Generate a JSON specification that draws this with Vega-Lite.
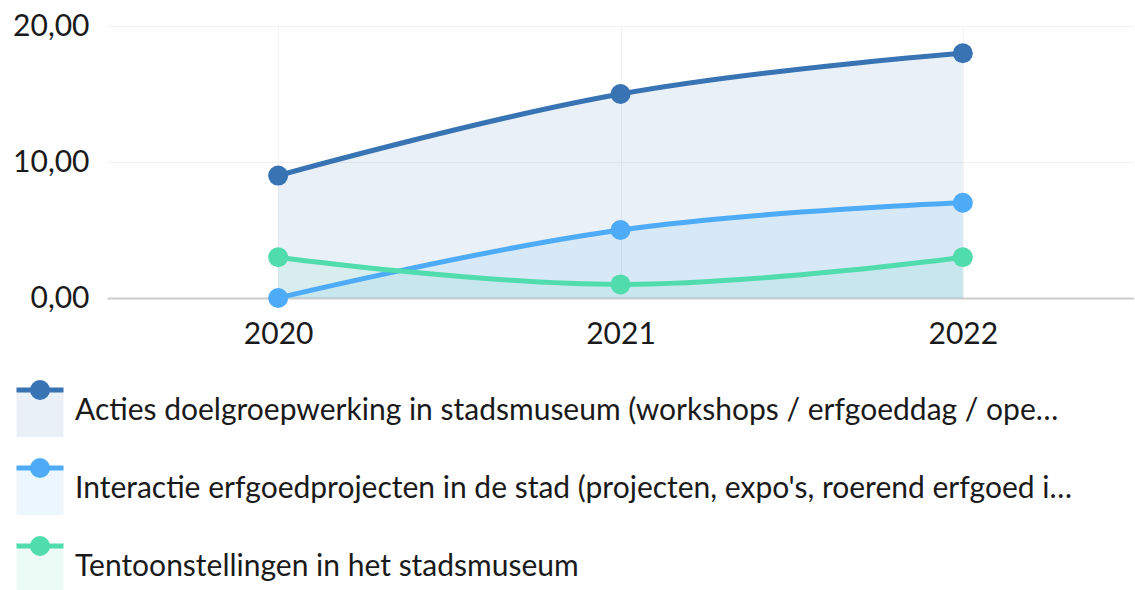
{
  "$schema": "https://vega.github.io/schema/vega-lite/v6.json",
  "padding": {"left": 12, "top": 11, "right": 0, "bottom": 0},
  "background": "white",
  "columns": 1,
  "spacing": 31,
  "config": {
    "view": {"stroke": null},
    "font": "Lato",
    "axis": {"labelFont": "Lato", "labelColor": "#1a1a1a", "title": null}
  },
  "data": {
    "values": [
      {"series": "Acties doelgroepwerking in stadsmuseum (workshops / erfgoeddag / ope…", "year": "2020", "value": 9},
      {"series": "Acties doelgroepwerking in stadsmuseum (workshops / erfgoeddag / ope…", "year": "2021", "value": 15},
      {"series": "Acties doelgroepwerking in stadsmuseum (workshops / erfgoeddag / ope…", "year": "2022", "value": 18},
      {"series": "Interactie erfgoedprojecten in de stad (projecten, expo's, roerend erfgoed i…", "year": "2020", "value": 0},
      {"series": "Interactie erfgoedprojecten in de stad (projecten, expo's, roerend erfgoed i…", "year": "2021", "value": 5},
      {"series": "Interactie erfgoedprojecten in de stad (projecten, expo's, roerend erfgoed i…", "year": "2022", "value": 7},
      {"series": "Tentoonstellingen in het stadsmuseum", "year": "2020", "value": 3},
      {"series": "Tentoonstellingen in het stadsmuseum", "year": "2021", "value": 1},
      {"series": "Tentoonstellingen in het stadsmuseum", "year": "2022", "value": 3}
    ]
  },
  "concat": [
    {
      "width": 1027,
      "height": 272,
      "encoding": {
        "x": {
          "field": "year", "type": "ordinal",
          "scale": {"type": "point", "padding": 0.5},
          "axis": {"labelAngle": 0, "labelFontSize": 30, "labelPadding": 21, "ticks": false, "domain": true, "domainColor": "#cccccc", "domainWidth": 2, "grid": true, "gridColor": "#f2f2f2", "gridWidth": 1}
        },
        "y": {
          "field": "value", "type": "quantitative",
          "scale": {"domain": [0, 20], "nice": false},
          "axis": {"values": [0, 10, 20], "labelExpr": "replace(format(datum.value, '.2f'), '.', ',')", "labelFontSize": 30, "labelPadding": 18, "ticks": false, "domain": false, "grid": true, "gridColor": "#f2f2f2", "gridWidth": 1}
        },
        "color": {
          "field": "series", "type": "nominal",
          "scale": {"range": ["#3873b3", "#4dabf7", "#51dcae"]},
          "legend": null
        }
      },
      "layer": [
        {"mark": {"type": "area", "interpolate": "cardinal", "tension": -0.2, "opacity": 0.11}, "encoding": {"y": {"field": "value", "type": "quantitative", "stack": null}}},
        {"mark": {"type": "line", "interpolate": "cardinal", "tension": -0.2, "strokeWidth": 5}},
        {"mark": {"type": "point", "filled": true, "opacity": 1, "size": 400, "shape": "circle"}}
      ]
    },
    {
      "width": 46,
      "height": 234,
      "transform": [{"filter": "datum.year == '2020'"}],
      "encoding": {
        "y": {"field": "series", "type": "nominal", "scale": {"type": "band", "paddingInner": 0, "paddingOuter": 0}, "axis": null, "bandPosition": 0},
        "color": {"field": "series", "type": "nominal", "legend": null}
      },
      "layer": [
        {"mark": {"type": "point", "shape": "M-1,0H1V2H-1Z", "filled": true, "opacity": 0.11, "size": 2209, "strokeWidth": 0, "xOffset": -90}},
        {"mark": {"type": "point", "shape": "M-1,-0.11H1V0.11H-1Z", "filled": true, "opacity": 1, "size": 2209, "strokeWidth": 0, "xOffset": -90}},
        {"mark": {"type": "point", "shape": "circle", "filled": true, "opacity": 1, "size": 400, "strokeWidth": 0, "xOffset": -90}},
        {"mark": {"type": "text", "align": "left", "baseline": "middle", "dx": 35, "dy": 21, "xOffset": -90, "fontSize": 30, "font": "Lato", "color": "#1a1a1a"}, "encoding": {"text": {"field": "series"}, "color": {"value": "#1a1a1a"}}}
      ]
    }
  ]
}
